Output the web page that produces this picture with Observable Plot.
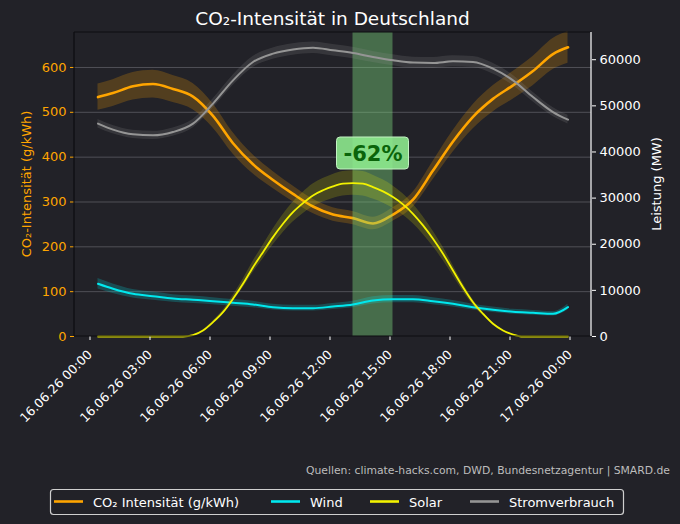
<!DOCTYPE html>
<html>
<head>
<meta charset="utf-8">
<script src="https://cdn.jsdelivr.net/npm/d3@7"></script>
<script src="https://cdn.jsdelivr.net/npm/@observablehq/plot@0.6"></script>
<style>
  html, body { margin: 0; padding: 0; background: #222228; }
  svg { display: block; }
</style>
</head>
<body>
<div id="chart"></div>
<script>
// ---- data ----
const hours = [0.25,1,2,3,4,5,6,7,8,9,10,11,12,13,14,15,16,17,18,19,20,21,22,23,23.75];
const co2 = [534,543,558,563,552,535,492,431,384,349,318,290,272,264,252,272,305,370,435,490,530,560,592,630,645];
const wind = [11430,10350,9260,8750,8240,7960,7660,7300,6940,6360,6140,6140,6500,6940,7810,8100,8100,7660,7090,6360,5790,5360,5140,4920,6360];
const strom = [46140,44840,43820,43600,44320,46140,50480,55530,59500,61320,62230,62600,62040,61450,60590,59870,59370,59290,59650,59500,58070,55530,51910,48650,47000];
const solarHours = [0.25,1,2,3,4,4.5,5,5.5,6,6.5,7,7.5,8,8.5,9,9.5,10,10.5,11,11.5,12,12.5,13,13.5,14,14.5,15,15.5,16,16.5,17,17.5,18,18.5,19,19.5,20,20.5,21,21.5,22,23,23.75];
const solar = [0,0,0,0,0,0,300,1300,3100,5270,8170,11430,15030,18290,21540,24440,26960,28920,30590,31700,32540,33120,33260,33120,32390,31450,30220,28630,26600,24080,21190,17940,14310,10690,7440,4920,2750,1300,430,0,0,0,0];

// relative uncertainty bands
const co2Unc = 0.055, windUnc = 0.10, solarUnc = 0.08, stromUnc = 0.02;

// highlighted window and annotation
const highlightStart = 13, highlightEnd = 15;
const reductionLabel = "-62%";
const reductionAt = {x: 14, y: 407};

// axes
const leftTicks = [0,100,200,300,400,500,600];
const rightTicks = [0,10000,20000,30000,40000,50000,60000];
const xTickHours = [0,3,6,9,12,15,18,21,24];
const xTickLabels = ["16.06.26 00:00","16.06.26 03:00","16.06.26 06:00","16.06.26 09:00","16.06.26 12:00","16.06.26 15:00","16.06.26 18:00","16.06.26 21:00","17.06.26 00:00"];

const titleText = "CO₂-Intensität in Deutschland";
const leftLabel = "CO₂-Intensität (g/kWh)";
const rightLabel = "Leistung (MW)";
const captionText = "Quellen: climate-hacks.com, DWD, Bundesnetzagentur | SMARD.de";
const legendLabels = ["CO₂ Intensität (g/kWh)", "Wind", "Solar", "Stromverbrauch"];

// ---- styles ----
const BG = "#222228";
const C_CO2 = "#ffa500", C_WIND = "#00e8ee", C_SOLAR = "#f2f200", C_STROM = "#959595";
const legendColors = [C_CO2, C_WIND, C_SOLAR, C_STROM];

const W = 680, H = 524;
const mL = 74, mR = 89, mT = 32, mB = 188;
const yMaxLeft = 678, yMaxRight = 65900;
const k = yMaxLeft / yMaxRight;

const rows = hours.map((h, i) => ({h, co2: co2[i], wind: wind[i] * k, strom: strom[i] * k}));
const solarRows = solarHours.map((h, i) => ({h, v: solar[i] * k}));
const curve = "monotone-x";

const plot = Plot.plot({
  width: W, height: H,
  marginLeft: mL, marginRight: mR, marginTop: mT, marginBottom: mB,
  style: {background: BG, fontFamily: "DejaVu Sans", fontSize: "12.5px", color: "white", overflow: "visible"},
  x: {domain: [-0.925, 24.925]},
  y: {domain: [0, yMaxLeft]},
  marks: [
    Plot.gridY(leftTicks.filter(d => d > 0), {stroke: "#505057", strokeOpacity: 1, strokeWidth: 1}),
    // CO2 (left axis)
    Plot.areaY(rows, {x: "h", y1: d => d.co2 * (1 - co2Unc), y2: d => d.co2 * (1 + co2Unc), fill: C_CO2, fillOpacity: 0.22, curve}),
    Plot.lineY(rows, {x: "h", y: "co2", stroke: C_CO2, strokeWidth: 2.6, curve}),
    // highlight span
    Plot.rect([{s: highlightStart, e: highlightEnd}], {x1: "s", x2: "e", fill: "#80df80", fillOpacity: 0.4}),
    // right axis series
    Plot.areaY(rows, {x: "h", y1: d => d.strom * (1 - stromUnc), y2: d => d.strom * (1 + stromUnc), fill: C_STROM, fillOpacity: 0.18, curve}),
    Plot.lineY(rows, {x: "h", y: "strom", stroke: C_STROM, strokeWidth: 2, curve}),
    Plot.areaY(rows, {x: "h", y1: d => d.wind * (1 - windUnc), y2: d => d.wind * (1 + windUnc), fill: C_WIND, fillOpacity: 0.22, curve}),
    Plot.lineY(rows, {x: "h", y: "wind", stroke: C_WIND, strokeWidth: 2, curve}),
    Plot.areaY(solarRows, {x: "h", y1: d => d.v * (1 - solarUnc), y2: d => d.v * (1 + solarUnc), fill: C_SOLAR, fillOpacity: 0.18, curve}),
    Plot.lineY(solarRows, {x: "h", y: "v", stroke: C_SOLAR, strokeWidth: 1.8, curve}),
    // annotation
    Plot.text([reductionAt], {x: "x", y: "y", text: () => reductionLabel, fill: "#0a640a", fontWeight: "bold", fontSize: 21, fontFamily: "DejaVu Sans"}),
    // axes
    Plot.axisY({anchor: "left", ticks: leftTicks, color: C_CO2, tickSize: 4, tickPadding: 4, label: null, fontSize: 13}),
    Plot.axisY({anchor: "right", ticks: rightTicks.map(t => t * k), tickFormat: d => String(Math.round(d / k)), color: "white", tickSize: 4, tickPadding: 4, label: null, fontSize: 13}),
    Plot.axisX({ticks: xTickHours, tickFormat: d => xTickLabels[xTickHours.indexOf(d)], tickRotate: -45, color: "white", tickSize: 4, tickPadding: 12, dx: -3, label: null, fontSize: 12.5})
  ]
});

document.getElementById("chart").appendChild(plot);
const svg = d3.select(plot);

// badge box behind the annotation text
const sx = plot.scale("x"), sy = plot.scale("y");
const bx = sx.apply(reductionAt.x), by = sy.apply(reductionAt.y);
const textG = svg.selectAll("g[aria-label='text']").filter(function() {
  return d3.select(this).text() === reductionLabel;
});
svg.append("rect")
  .attr("x", bx - 36).attr("y", by - 16.5)
  .attr("width", 72).attr("height", 32)
  .attr("rx", 3.5).attr("fill", "#90ee90").attr("fill-opacity", 0.88)
  .attr("stroke", "#c2f2c2").attr("stroke-width", 1);
if (!textG.empty()) plot.appendChild(textG.node());

const x0 = mL, x1 = W - mR, y0 = mT, y1 = H - mB;
// spines
svg.append("line").attr("x1", x0).attr("x2", x1).attr("y1", y0).attr("y2", y0).attr("stroke", "#0d0d10").attr("stroke-width", 1.2);
svg.append("line").attr("x1", x0).attr("x2", x1).attr("y1", y1).attr("y2", y1).attr("stroke", "#0d0d10").attr("stroke-width", 1.2);
svg.append("line").attr("x1", x0).attr("x2", x0).attr("y1", y0).attr("y2", y1).attr("stroke", "#0d0d10").attr("stroke-width", 1.2);
svg.append("line").attr("x1", x1).attr("x2", x1).attr("y1", y0).attr("y2", y1).attr("stroke", "#ffffff").attr("stroke-width", 1.2);

const txt = (x, y, s, opts = {}) => svg.append("text").attr("x", x).attr("y", y)
  .attr("text-anchor", opts.anchor || "start").attr("fill", opts.fill || "white")
  .attr("font-size", opts.size || 13).attr("font-family", "DejaVu Sans")
  .attr("transform", opts.transform || null).text(s);

// title
txt((x0 + x1) / 2, 25, titleText, {anchor: "middle", size: 18.5});
// axis labels
txt(0, 0, leftLabel, {anchor: "middle", fill: C_CO2, size: 13, transform: `translate(31,${(y0 + y1) / 2}) rotate(-90)`});
txt(0, 0, rightLabel, {anchor: "middle", size: 13, transform: `translate(661,${(y0 + y1) / 2}) rotate(-90)`});
// caption
txt(670, 474, captionText, {anchor: "end", fill: "#bdbdbd", size: 10.8});

// legend
svg.append("rect").attr("x", 50.5).attr("y", 489.5).attr("width", 573).attr("height", 25).attr("rx", 3)
  .attr("fill", BG).attr("stroke", "#cfcfcf").attr("stroke-width", 1.2);
const itemX = [54, 271, 370, 470];
legendLabels.forEach((lab, i) => {
  svg.append("line").attr("x1", itemX[i]).attr("x2", itemX[i] + 29).attr("y1", 501.5).attr("y2", 501.5)
    .attr("stroke", legendColors[i]).attr("stroke-width", 2.6);
  txt(itemX[i] + 39, 506.5, lab, {size: 13});
});
</script>
</body>
</html>
